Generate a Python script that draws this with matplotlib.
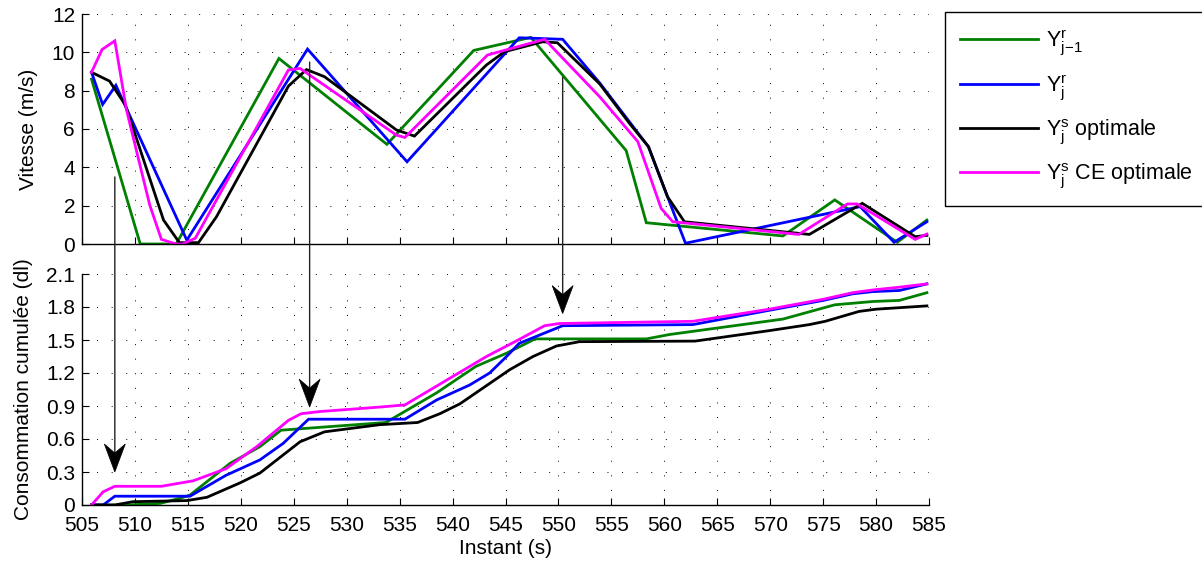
import matplotlib
matplotlib.use("Agg")
import matplotlib.pyplot as plt
from matplotlib.patches import ConnectionPatch, Polygon
from matplotlib.transforms import ScaledTranslation

plt.rcParams['font.family'] = ['Liberation Sans', 'DejaVu Sans']
plt.rcParams['mathtext.fontset'] = 'custom'
plt.rcParams['mathtext.rm'] = 'Liberation Sans'
plt.rcParams['mathtext.it'] = 'Liberation Sans'

# ---------------- data: speed (top) ----------------
green_t_x = [505.9, 510.5, 513.9, 523.6, 533.8, 542.0, 547.4, 556.4, 558.3, 571.2, 576.1, 582.0, 584.8]
green_t_y = [8.6, 0, 0, 9.68, 5.2, 10.1, 10.78, 4.87, 1.11, 0.42, 2.3, 0.09, 1.25]

blue_t_x = [505.9, 506.95, 508.2, 514.9, 526.3, 535.7, 546.3, 550.4, 553.9, 558.5, 560.3, 562.0, 578.5, 581.7, 584.8]
blue_t_y = [8.96, 7.28, 8.28, 0.2, 10.17, 4.29, 10.76, 10.68, 8.4, 5.08, 2.47, 0.04, 1.95, 0.09, 1.16]

black_t_x = [505.9, 507.6, 509.1, 512.7, 514.2, 516.0, 517.7, 524.5, 526.2, 527.9, 534.7, 536.4,
             543.2, 544.9, 548.5, 549.9, 553.9, 556.7, 558.5, 560.3, 561.9, 573.7, 578.7, 583.7, 584.8]
black_t_y = [8.96, 8.5, 7.25, 1.25, 0.07, 0.07, 1.42, 8.24, 9.1, 8.73, 5.95, 5.63,
             9.34, 10.03, 10.55, 10.5, 8.35, 6.3, 5.08, 2.47, 1.16, 0.5, 2.12, 0.38, 0.45]

magenta_t_x = [505.9, 506.9, 508.1, 509.2, 511.4, 512.5, 513.9, 514.5, 515.7, 524.5, 525.6, 534.7,
               535.5, 543.3, 548.7, 553.9, 557.5, 559.7, 560.8, 572.7, 577.3, 578.2, 583.7, 584.8]
magenta_t_y = [8.96, 10.15, 10.6, 7.0, 2.03, 0.24, 0, 0, 0.3, 9.08, 9.16, 5.68,
               5.56, 9.86, 10.68, 7.68, 5.34, 1.86, 1.16, 0.5, 2.09, 2.09, 0.24, 0.52]

# ---------------- data: cumulative consumption (bottom) ----------------
green_b_x = [505.9, 509.2, 512.4, 514.2, 515.2, 519.0, 521.8, 523.8, 533.7, 538.5, 542.2, 545.1,
             547.8, 558.3, 560.5, 571.2, 576.1, 579.7, 582.2, 584.8]
green_b_y = [0, 0, 0.015, 0.06, 0.09, 0.38, 0.53, 0.68, 0.75, 1.02, 1.26, 1.38,
             1.51, 1.51, 1.55, 1.69, 1.82, 1.85, 1.86, 1.93]

blue_b_x = [505.9, 507.0, 508.1, 515.2, 518.6, 521.8, 524.0, 526.4, 535.5, 538.5, 541.6, 543.5,
            545.1, 546.3, 550.4, 562.7, 569.9, 575.0, 577.8, 579.7, 582.2, 584.8]
blue_b_y = [0, 0, 0.08, 0.08, 0.27, 0.41, 0.56, 0.78, 0.78, 0.955, 1.09, 1.2,
            1.35, 1.47, 1.63, 1.64, 1.77, 1.86, 1.92, 1.94, 1.95, 2.01]

black_b_x = [505.9, 508.1, 509.8, 514.9, 516.8, 519.9, 521.8, 523.4, 525.6, 527.9, 533.1, 536.7,
             538.8, 540.7, 545.4, 547.6, 549.8, 552.0, 562.9, 569.9, 573.7, 575.2, 578.4, 580.0, 584.8]
black_b_y = [0, 0, 0.03, 0.04, 0.07, 0.2, 0.29, 0.41, 0.575, 0.665, 0.73, 0.75,
             0.83, 0.92, 1.23, 1.35, 1.445, 1.485, 1.49, 1.585, 1.64, 1.67, 1.76, 1.78, 1.81]

magenta_b_x = [505.9, 507.0, 508.1, 512.5, 515.5, 518.6, 521.5, 524.5, 525.7, 527.5, 533.1, 535.5,
               543.2, 545.8, 548.7, 550.1, 562.7, 569.9, 575.0, 577.8, 579.7, 582.2, 584.8]
magenta_b_y = [0, 0.12, 0.17, 0.17, 0.22, 0.33, 0.53, 0.77, 0.83, 0.85, 0.89, 0.91,
               1.35, 1.48, 1.63, 1.65, 1.67, 1.78, 1.87, 1.93, 1.955, 1.98, 2.01]

# arrows: (x, y_top in speed units, y_tip in consumption units)
arrow_x = [508.1, 526.5, 550.4]
arrow_top = [3.5, 9.49, 8.7]
arrow_tip = [0.30, 0.89, 1.74]

labels = [r'$\mathregular{Y^r_{j\!-\!1}}$', r'$\mathregular{Y^r_j}$',
          r'$\mathregular{Y^s_j}$ optimale', r'$\mathregular{Y^s_j}$ CE optimale']
colors = ['#008000', '#0000ff', '#000000', '#ff00ff']

FS = 15
W, H = 1202, 566
fig = plt.figure(figsize=(W / 100, H / 100), dpi=100)
ax1 = fig.add_axes([82 / W, 1 - 244 / H, 847 / W, 230 / H])
ax2 = fig.add_axes([82 / W, 1 - 505 / H, 847 / W, 231 / H])

top_series = [(green_t_x, green_t_y), (blue_t_x, blue_t_y), (black_t_x, black_t_y), (magenta_t_x, magenta_t_y)]
bot_series = [(green_b_x, green_b_y), (blue_b_x, blue_b_y), (black_b_x, black_b_y), (magenta_b_x, magenta_b_y)]

lines = []
for (x, y), c, lab in zip(top_series, colors, labels):
    l, = ax1.plot(x, y, color=c, lw=2.0, label=lab, solid_joinstyle='miter')
    lines.append(l)
for (x, y), c in zip(bot_series, colors):
    ax2.plot(x, y, color=c, lw=2.0, solid_joinstyle='miter')

for ax in (ax1, ax2):
    ax.set_xlim(505, 585)
    ax.set_xticks(range(505, 586, 5))
    for s in ('top', 'right'):
        ax.spines[s].set_visible(False)
    ax.spines['left'].set_linewidth(1.0)
    ax.spines['bottom'].set_linewidth(1.0)
    ax.tick_params(direction='in', length=5, width=0.8, labelsize=FS, colors='black')
    ax.tick_params(axis='y', pad=5)
    ax.tick_params(axis='x', pad=8)
    ax.grid(True, color='black', linestyle=(0, (1, 14)), linewidth=0.7)
    ax.set_axisbelow(True)

ax1.set_ylim(0, 12)
ax1.set_yticks(range(0, 13, 2))
ax1.tick_params(labelbottom=False)
ax1.set_ylabel('Vitesse (m/s)', fontsize=FS, labelpad=10)

ax2.set_ylim(0, 2.1)
ax2.set_yticks([0, 0.3, 0.6, 0.9, 1.2, 1.5, 1.8, 2.1])
ax2.set_yticklabels(['0', '0.3', '0.6', '0.9', '1.2', '1.5', '1.8', '2.1'])
ax2.set_ylabel('Consommation cumulée (dl)', fontsize=FS, labelpad=9)
ax2.set_xlabel('Instant (s)', fontsize=FS, labelpad=3)

# arrows spanning both axes
for xa, yt, yb in zip(arrow_x, arrow_top, arrow_tip):
    cp = ConnectionPatch(xyA=(xa, yt), coordsA=ax1.transData,
                         xyB=(xa, yb + 0.02), coordsB=ax2.transData,
                         color='#222222', lw=1.0)
    fig.add_artist(cp)
    tr = fig.dpi_scale_trans + ScaledTranslation(xa, yb, ax2.transData)
    head = Polygon([(0, 0), (-0.105, 0.28), (0, 0.19), (0.105, 0.28)], closed=True,
                   transform=tr, facecolor='black', edgecolor='black', lw=0.5)
    fig.add_artist(head)

leg = fig.legend(handles=lines, labels=labels, loc='upper left',
                 bbox_to_anchor=(945 / W, 1 - 12 / H), bbox_transform=fig.transFigure,
                 borderaxespad=0, fontsize=15.5, handlelength=3.6, handletextpad=0.4,
                 labelspacing=0.7, borderpad=0.7, fancybox=False, framealpha=1)
leg.get_frame().set_edgecolor('black')
leg.get_frame().set_linewidth(1.0)

fig.savefig('out.png', dpi=100)
